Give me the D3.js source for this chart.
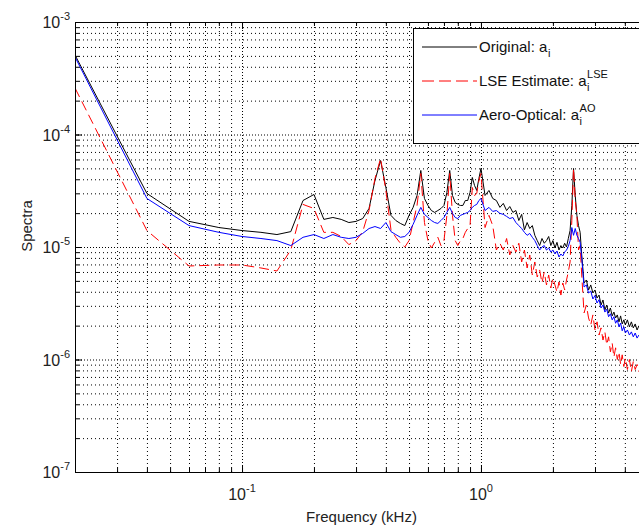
<!DOCTYPE html>
<html><head><meta charset="utf-8">
<script src="https://cdn.jsdelivr.net/npm/d3@7"></script>
<style>
body{margin:0;background:#fff}
svg{display:block;font-family:"Liberation Sans",Arial,Helvetica,sans-serif}
</style>
</head><body>
<svg id="c" width="639" height="527"></svg>
<script>
// ---- data (frequency in kHz, spectra values) ----
const freqs = [0.02,0.04,0.06,0.08,0.10,0.12,0.14,0.16,0.18,0.20,
 0.22,0.24,0.26,0.28,0.30,0.32,0.34,0.36,0.38,0.40,
 0.42,0.44,0.46,0.48,0.50,0.52,0.54,0.56,0.58,0.60,
 0.62,0.64,0.66,0.68,0.70,0.72,0.74,0.76,0.78,0.80,
 0.82,0.84,0.86,0.88,0.90,0.92,0.94,0.96,0.98,1.00,
 1.04,1.08,1.12,1.16,1.20,1.24,1.28,1.32,1.36,1.40,
 1.44,1.48,1.52,1.56,1.60,1.64,1.68,1.72,1.76,1.80,
 1.84,1.88,1.92,1.96,2.00,2.04,2.08,2.12,2.16,2.20,
 2.24,2.28,2.32,2.36,2.40,2.44,2.48,2.52,2.56,2.60,
 2.64,
 2.70,2.76,2.82,2.88,2.94,3.00,3.06,3.12,3.18,3.24,
 3.30,3.36,3.42,3.48,3.54,3.60,3.66,3.72,3.78,3.84,
 3.90,3.96,4.02,
 4.10,4.18,4.26,4.34,4.42,4.50,4.58,4.66];

const original = [5.09e-4,2.99e-5,1.69e-5,1.49e-5,1.40e-5,1.35e-5,1.29e-5,1.37e-5,2.59e-5,2.93e-5,
 1.76e-5,1.83e-5,1.76e-5,1.65e-5,1.69e-5,1.79e-5,2.20e-5,3.90e-5,5.87e-5,3.38e-5,
 1.91e-5,1.72e-5,1.62e-5,1.55e-5,1.91e-5,2.25e-5,2.87e-5,4.79e-5,2.70e-5,2.34e-5,
 2.11e-5,2.03e-5,2.11e-5,2.20e-5,2.34e-5,3.05e-5,4.79e-5,2.87e-5,2.49e-5,2.39e-5,
 2.34e-5,2.34e-5,2.59e-5,2.59e-5,3.05e-5,4.15e-5,3.52e-5,3.18e-5,4.06e-5,4.99e-5,
 2.87e-5,3.18e-5,2.70e-5,2.59e-5,2.25e-5,2.44e-5,2.11e-5,2.29e-5,2.03e-5,2.11e-5,
 1.72e-5,1.95e-5,1.42e-5,1.65e-5,1.46e-5,1.55e-5,1.27e-5,1.14e-5,1.03e-5,1.19e-5,
 1.08e-5,1.14e-5,1.24e-5,1.03e-5,1.14e-5,9.80e-6,1.10e-5,9.40e-6,1.03e-5,9.80e-6,
 1.08e-5,1.00e-5,1.19e-5,1.40e-5,2.34e-5,4.99e-5,2.87e-5,1.91e-5,1.55e-5,1.35e-5,
 8.49e-6,
 4.79e-6,5.09e-6,4.15e-6,4.60e-6,3.90e-6,4.15e-6,3.52e-6,3.74e-6,3.05e-6,3.38e-6,
 2.76e-6,3.05e-6,2.59e-6,2.87e-6,2.44e-6,2.64e-6,2.34e-6,2.49e-6,2.16e-6,2.44e-6,
 2.07e-6,2.25e-6,2.03e-6,
 2.25e-6,1.95e-6,2.16e-6,1.91e-6,2.07e-6,1.83e-6,1.99e-6,1.83e-6];

const lseEstimate = [2.59e-4,1.40e-5,6.78e-6,6.92e-6,6.92e-6,6.51e-6,6.12e-6,9.40e-6,2.39e-5,2.20e-5,
 1.35e-5,1.35e-5,1.24e-5,1.05e-5,1.14e-5,1.37e-5,2.11e-5,4.06e-5,6.12e-5,3.18e-5,
 1.43e-5,1.22e-5,1.08e-5,1.00e-5,1.14e-5,1.65e-5,2.34e-5,4.50e-5,1.65e-5,1.14e-5,
 9.80e-6,1.10e-5,1.22e-5,1.03e-5,1.14e-5,1.91e-5,4.50e-5,1.91e-5,1.14e-5,1.03e-5,
 1.14e-5,1.19e-5,1.35e-5,1.46e-5,1.55e-5,3.38e-5,2.87e-5,2.99e-5,3.90e-5,4.50e-5,
 1.49e-5,1.91e-5,1.55e-5,9.40e-6,1.08e-5,9.40e-6,1.19e-5,8.49e-6,1.03e-5,9.03e-6,
 1.08e-5,7.36e-6,9.40e-6,6.51e-6,8.49e-6,5.64e-6,7.36e-6,5.41e-6,6.25e-6,4.79e-6,
 6.00e-6,4.60e-6,5.64e-6,4.32e-6,5.30e-6,4.60e-6,3.98e-6,4.89e-6,3.74e-6,4.79e-6,
 4.15e-6,5.09e-6,6.00e-6,7.36e-6,1.72e-5,4.99e-5,2.59e-5,1.91e-5,9.40e-6,1.03e-5,
 5.64e-6,
 2.59e-6,3.05e-6,2.34e-6,2.03e-6,2.49e-6,1.83e-6,2.16e-6,1.65e-6,1.91e-6,1.49e-6,
 1.76e-6,1.35e-6,1.59e-6,1.17e-6,1.40e-6,1.05e-6,1.27e-6,1.00e-6,1.17e-6,9.03e-7,
 1.10e-6,8.67e-7,1.03e-6,
 8.15e-7,1.00e-6,7.82e-7,9.60e-7,8.15e-7,9.03e-7,7.82e-7,8.49e-7];

const aeroOptical = [4.89e-4,2.70e-5,1.55e-5,1.35e-5,1.24e-5,1.19e-5,1.14e-5,1.03e-5,1.22e-5,1.29e-5,
 1.19e-5,1.29e-5,1.22e-5,1.19e-5,1.22e-5,1.32e-5,1.46e-5,1.52e-5,1.46e-5,1.65e-5,
 1.37e-5,1.29e-5,1.22e-5,1.24e-5,1.35e-5,1.59e-5,1.91e-5,2.25e-5,1.95e-5,1.83e-5,
 1.72e-5,1.65e-5,1.62e-5,1.72e-5,1.83e-5,2.03e-5,2.25e-5,1.99e-5,1.83e-5,1.79e-5,
 1.91e-5,1.95e-5,1.99e-5,2.03e-5,2.11e-5,2.25e-5,2.34e-5,2.39e-5,2.59e-5,2.70e-5,
 2.11e-5,2.25e-5,2.07e-5,2.11e-5,1.99e-5,1.95e-5,1.87e-5,1.79e-5,1.83e-5,1.65e-5,
 1.55e-5,1.46e-5,1.35e-5,1.27e-5,1.32e-5,1.22e-5,1.14e-5,1.03e-5,9.40e-6,1.00e-5,
 1.03e-5,9.40e-6,9.80e-6,9.03e-6,9.40e-6,8.67e-6,9.21e-6,8.15e-6,8.67e-6,8.32e-6,
 9.03e-6,9.40e-6,1.01e-5,1.14e-5,1.49e-5,1.27e-5,1.46e-5,1.27e-5,1.19e-5,1.10e-5,
 7.98e-6,
 4.41e-6,4.60e-6,3.90e-6,4.06e-6,3.45e-6,3.70e-6,3.18e-6,3.40e-6,2.87e-6,3.05e-6,
 2.64e-6,2.80e-6,2.40e-6,2.55e-6,2.25e-6,2.40e-6,2.10e-6,2.25e-6,1.95e-6,2.11e-6,
 1.80e-6,1.95e-6,1.72e-6,
 1.83e-6,1.65e-6,1.76e-6,1.59e-6,1.72e-6,1.55e-6,1.65e-6,1.59e-6];

const xTickLabels = [{v:0.1, base:"10", exp:"-1"}, {v:1, base:"10", exp:"0"}];
const yTickLabels = [{v:1e-7, base:"10", exp:"-7"}, {v:1e-6, base:"10", exp:"-6"},
  {v:1e-5, base:"10", exp:"-5"}, {v:1e-4, base:"10", exp:"-4"}, {v:1e-3, base:"10", exp:"-3"}];
const seriesNames = ["Original: a", "LSE Estimate: a", "Aero-Optical: a"];
const seriesSub = ["i", "i", "i"];
const seriesSup = ["", "LSE", "AO"];
const xLabel = "Frequency (kHz)";
const yLabel = "Spectra";

// ---- layout ----
const L = 75, R = 648, T = 22, B = 472;
const svg = d3.select("#c");
const x = d3.scaleLog().domain([0.02, 5]).range([L, R]);
const y = d3.scaleLog().domain([1e-7, 1e-3]).range([B, T]);

const xMinor = [];
[0.01, 0.1, 1].forEach(d => { for (let m = 1; m <= 9; m++) { const v = +(m * d).toPrecision(3); if (v >= 0.02 && v <= 5) xMinor.push(v); } });
const yMinor = [];
[1e-7, 1e-6, 1e-5, 1e-4].forEach(d => { for (let m = 1; m <= 9; m++) yMinor.push(+(m * d).toPrecision(3)); });
yMinor.push(1e-3);
const xMajor = xTickLabels.map(d => d.v);
const yMajor = yTickLabels.map(d => d.v);

// background
svg.append("rect").attr("width", 639).attr("height", 527).attr("fill", "#fff");

// grid (dotted)
const gx = svg.append("g").attr("transform", `translate(0,${B})`)
  .call(d3.axisBottom(x).tickValues(xMinor).tickSize(-(B - T)).tickFormat(""));
gx.select(".domain").remove();
gx.selectAll("line").attr("stroke", "#000").attr("stroke-dasharray", d => xMajor.includes(d) ? "1,2" : "1,3").attr("stroke-width", 1);
const gy = svg.append("g").attr("transform", `translate(${L},0)`)
  .call(d3.axisLeft(y).tickValues(yMinor).tickSize(-(R - L)).tickFormat(""));
gy.select(".domain").remove();
gy.selectAll("line").attr("stroke", "#000").attr("stroke-dasharray", d => yMajor.includes(d) ? "1,2" : "1,3").attr("stroke-width", 1);

// data lines
svg.append("clipPath").attr("id", "clip").append("rect").attr("x", L).attr("y", T).attr("width", R - L).attr("height", B - T);
const line = d3.line().x((d, i) => x(freqs[i])).y(d => y(d));
const plotG = svg.append("g").attr("clip-path", "url(#clip)");
plotG.append("path").datum(original).attr("d", line).attr("fill", "none").attr("stroke", "#000").attr("stroke-width", 1);
plotG.append("path").datum(lseEstimate).attr("d", line).attr("fill", "none").attr("stroke", "#ff0000").attr("stroke-width", 1).attr("stroke-dasharray", "10,5");
plotG.append("path").datum(aeroOptical).attr("d", line).attr("fill", "none").attr("stroke", "#0000ff").attr("stroke-width", 1);

// ticks (inside)
function styleAxis(g) { g.select(".domain").remove(); g.selectAll("line").attr("stroke", "#000"); }
svg.append("g").attr("transform", `translate(0,${B})`).call(d3.axisBottom(x).tickValues(xMinor).tickSizeInner(-4).tickSizeOuter(0).tickFormat("")).call(styleAxis);
svg.append("g").attr("transform", `translate(0,${B})`).call(d3.axisBottom(x).tickValues(xMajor).tickSizeInner(-7).tickSizeOuter(0).tickFormat("")).call(styleAxis);
svg.append("g").attr("transform", `translate(0,${T})`).call(d3.axisTop(x).tickValues(xMinor).tickSizeInner(-4).tickSizeOuter(0).tickFormat("")).call(styleAxis);
svg.append("g").attr("transform", `translate(0,${T})`).call(d3.axisTop(x).tickValues(xMajor).tickSizeInner(-7).tickSizeOuter(0).tickFormat("")).call(styleAxis);
svg.append("g").attr("transform", `translate(${L},0)`).call(d3.axisLeft(y).tickValues(yMinor).tickSizeInner(-4).tickSizeOuter(0).tickFormat("")).call(styleAxis);
svg.append("g").attr("transform", `translate(${L},0)`).call(d3.axisLeft(y).tickValues(yMajor).tickSizeInner(-7).tickSizeOuter(0).tickFormat("")).call(styleAxis);

// box
svg.append("rect").attr("x", L + 0.5).attr("y", T + 0.5).attr("width", R - L).attr("height", B - T)
  .attr("fill", "none").attr("stroke", "#000").attr("stroke-width", 1);

// tick labels
xTickLabels.forEach(d => {
  const t = svg.append("text").attr("x", x(d.v)).attr("y", 500).attr("text-anchor", "middle")
    .attr("font-size", 16).attr("fill", "#222");
  t.append("tspan").text(d.base);
  t.append("tspan").attr("dy", -8).attr("font-size", 11).text(d.exp);
});
yTickLabels.forEach(d => {
  const t = svg.append("text").attr("x", 70).attr("y", y(d.v) + 6).attr("text-anchor", "end")
    .attr("font-size", 16).attr("fill", "#222");
  t.append("tspan").text(d.base);
  t.append("tspan").attr("dy", -8).attr("font-size", 11).text(d.exp);
});

// axis labels
svg.append("text").attr("x", (L + R) / 2).attr("y", 522).attr("text-anchor", "middle")
  .attr("font-size", 15).attr("fill", "#222").text(xLabel);
svg.append("text").attr("transform", "translate(32,226) rotate(-90)").attr("text-anchor", "middle")
  .attr("font-size", 15).attr("fill", "#222").text(yLabel);

// legend
const lg = svg.append("g");
lg.append("rect").attr("x", 413.5).attr("y", 28.5).attr("width", 300).attr("height", 115)
  .attr("fill", "#fff").attr("stroke", "#000").attr("stroke-width", 1);
const rows = [47, 81, 115];
const styles = [{c:"#000", d:null}, {c:"#ff0000", d:"12,5"}, {c:"#0000ff", d:null}];
rows.forEach((ry, i) => {
  lg.append("line").attr("x1", 422).attr("x2", 477).attr("y1", ry).attr("y2", ry)
    .attr("stroke", styles[i].c).attr("stroke-width", 1).attr("stroke-dasharray", styles[i].d);
  const t = lg.append("text").attr("x", 479).attr("y", ry + 5).attr("font-size", 15).attr("fill", "#111").text(seriesNames[i]);
  const w = t.node().getComputedTextLength();
  lg.append("text").attr("x", 479 + w + 0.5).attr("y", ry + 10).attr("font-size", 11).attr("fill", "#111").text(seriesSub[i]);
  if (seriesSup[i]) lg.append("text").attr("x", 479 + w + 0.5).attr("y", ry - 3).attr("font-size", 11).attr("fill", "#111").text(seriesSup[i]);
});
</script>
</body></html>
